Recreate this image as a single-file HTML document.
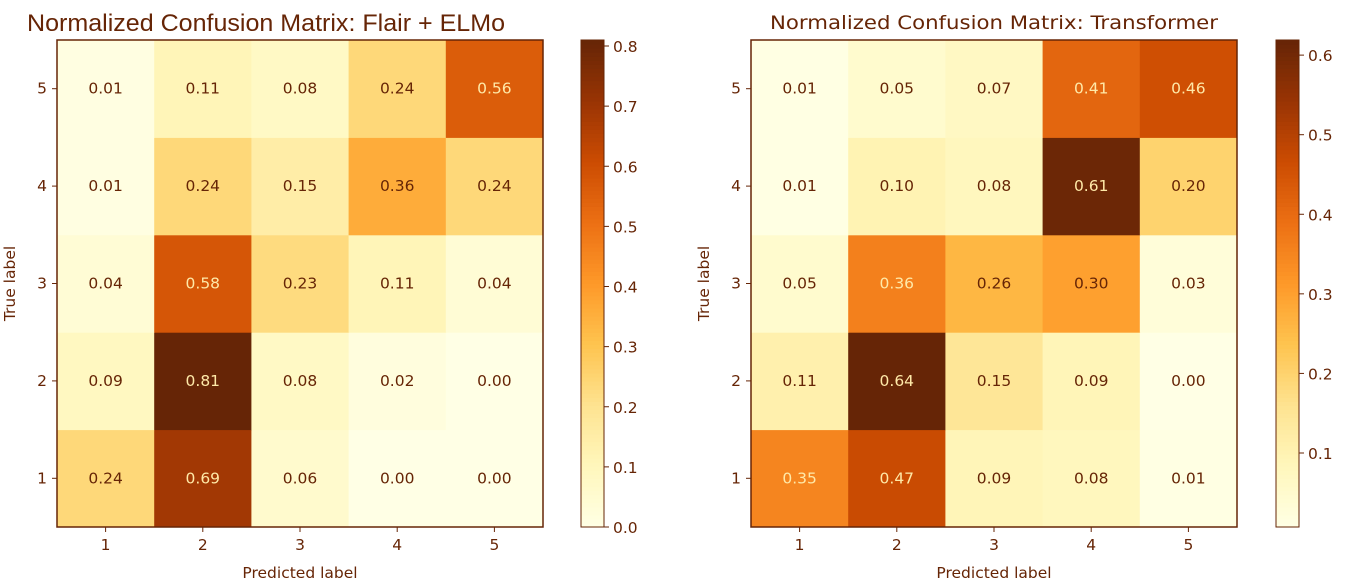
<!DOCTYPE html>
<html><head><meta charset="utf-8"><style>
html,body{margin:0;padding:0;background:#fff;}
svg{display:block;font-family:"DejaVu Sans","Liberation Sans",sans-serif;}
</style></head><body>
<svg id="chart" width="1356" height="588" viewBox="0 0 1356 588" xmlns="http://www.w3.org/2000/svg">
<text x="27" y="31" font-family="Liberation Sans, sans-serif" font-size="24" fill="#662506" textLength="478" lengthAdjust="spacingAndGlyphs">Normalized Confusion Matrix: Flair + ELMo</text>
<text x="770" y="29" font-size="19" fill="#662506" textLength="448" lengthAdjust="spacingAndGlyphs">Normalized Confusion Matrix: Transformer</text>
<g id="left"></g>
<g id="right"></g>
</svg>
<script>
const labels = ["1","2","3","4","5"];
// rows are true label 1..5, columns predicted 1..5
const flairValues = [
 [0.24,0.69,0.06,0.00,0.00],
 [0.09,0.81,0.08,0.02,0.00],
 [0.04,0.58,0.23,0.11,0.04],
 [0.01,0.24,0.15,0.36,0.24],
 [0.01,0.11,0.08,0.24,0.56]
];
const transformerValues = [
 [0.35,0.47,0.09,0.08,0.01],
 [0.11,0.64,0.15,0.09,0.00],
 [0.05,0.36,0.26,0.30,0.03],
 [0.01,0.10,0.08,0.61,0.20],
 [0.01,0.05,0.07,0.41,0.46]
];
const flairTicks = [0.0,0.1,0.2,0.3,0.4,0.5,0.6,0.7,0.8];
const transformerTicks = [0.1,0.2,0.3,0.4,0.5,0.6];
const flairRange = [0.0,0.81];
const transformerRange = [0.007,0.619];

const stops=["#ffffe5","#fff7bc","#fee391","#fec44f","#fe9929","#ec7014","#cc4c02","#993404","#662506"];
function hex(h){return [1,3,5].map(i=>parseInt(h.substr(i,2),16));}
function cmap(t){t=Math.max(0,Math.min(1,t));const p=t*8,i=Math.min(7,Math.floor(p)),f=p-i;
 const a=hex(stops[i]),b=hex(stops[i+1]);return "rgb("+a.map((v,k)=>Math.round(v+(b[k]-v)*f)).join(",")+")";}
const NS="http://www.w3.org/2000/svg";
function mk(parent,tag,attrs,text){const e=document.createElementNS(NS,tag);for(const k in attrs)e.setAttribute(k,attrs[k]);if(text!==undefined)e.textContent=text;parent.appendChild(e);return e;}
const DARK="#662506";
function panel(g,values,ticks,range,x0,cbx){
 const top=40,bottom=527,w=486,h=bottom-top,cw=w/5,ch=h/5;
 const xs=c=>x0+c*cw, ys=r=>bottom-(r+1)*ch;
 const norm=v=>(v-range[0])/(range[1]-range[0]);
 let mn=Infinity,mx=-Infinity;values.forEach(r=>r.forEach(v=>{mn=Math.min(mn,v);mx=Math.max(mx,v);}));
 const thr=(mn+mx)/2;
 values.forEach((row,r)=>row.forEach((v,c)=>{
  const rect=mk(g,"rect",{x:xs(c),y:ys(r),width:cw+0.5,height:ch+0.5,fill:cmap(norm(v))});
  
  
  const t=mk(g,"text",{x:xs(c)+cw/2,y:ys(r)+ch/2+5,"text-anchor":"middle","font-size":"15.5",fill:v>thr?"#ffe9a8":DARK},v.toFixed(2));
  
  
 }));
 mk(g,"rect",{x:x0,y:top,width:w,height:h,fill:"none",stroke:DARK,"stroke-width":1.5});
 labels.forEach((l,i)=>{
  const cx=xs(i)+cw/2;
  mk(g,"line",{x1:cx,y1:bottom,x2:cx,y2:bottom+5,stroke:DARK});
  const tx=mk(g,"text",{x:cx,y:bottom+23,"text-anchor":"middle","font-size":"15.5",fill:DARK},l);
  
  
  const cy=ys(i)+ch/2;
  mk(g,"line",{x1:x0-5,y1:cy,x2:x0,y2:cy,stroke:DARK});
  const ty=mk(g,"text",{x:x0-10,y:cy+5,"text-anchor":"end","font-size":"15.5",fill:DARK},l);
  
  
 });
 const xl=mk(g,"text",{x:x0+w/2,y:578,"text-anchor":"middle","font-size":"15.5",fill:DARK},"Predicted label");
 
 
 const yl=mk(g,"text",{x:0,y:0,"text-anchor":"middle","font-size":"15.5",fill:DARK,transform:"translate("+(x0-42)+","+(top+h/2)+") rotate(-90)"},"True label");
 
 
 const cbw=23,N=120;
 for(let i=0;i<N;i++){
  const v0=range[0]+(range[1]-range[0])*i/N;
  const r=mk(g,"rect",{x:cbx,y:bottom-(i+1)*h/N,width:cbw,height:h/N+0.6,fill:cmap(norm(v0+(range[1]-range[0])/(2*N)))});
  
  
 }
 mk(g,"rect",{x:cbx,y:top,width:cbw,height:h,fill:"none",stroke:DARK,"stroke-width":1});
 ticks.forEach(t=>{
  const y=bottom-norm(t)*h;
  mk(g,"line",{x1:cbx+cbw,y1:y,x2:cbx+cbw+5,y2:y,stroke:DARK});
  const tl=mk(g,"text",{x:cbx+cbw+9,y:y+6,"font-size":"15.5",fill:DARK},t.toFixed(1));
  
  
 });
}
panel(document.getElementById("left"),flairValues,flairTicks,flairRange,57,581);
panel(document.getElementById("right"),transformerValues,transformerTicks,transformerRange,751,1276);
</script>
</body></html>
